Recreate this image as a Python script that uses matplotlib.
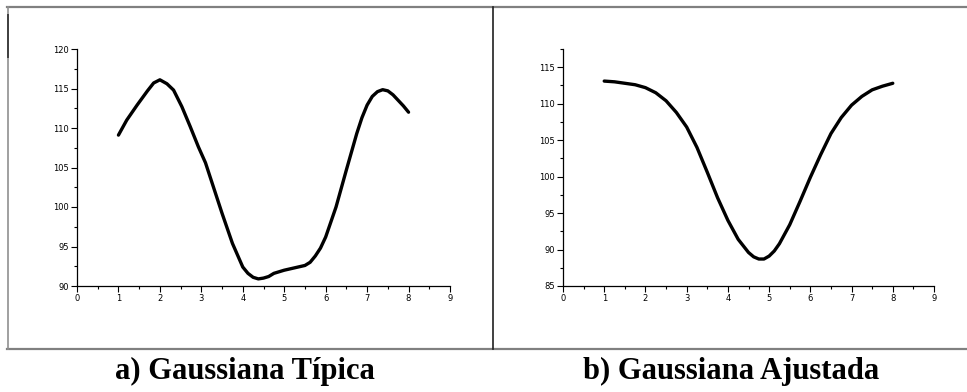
import matplotlib
matplotlib.use("Agg")
import matplotlib.pyplot as plt
from matplotlib.lines import Line2D
from matplotlib.ticker import MultipleLocator

# a) typical gaussian (read off the picture)
x_tipica = [1, 1.2, 1.45, 1.7, 1.85, 2, 2.17, 2.33, 2.53, 2.73, 2.93, 3.1,
            3.25, 3.5, 3.75, 4, 4.125, 4.25, 4.375, 4.5, 4.625, 4.75, 5,
            5.25, 5.5, 5.625, 5.75, 5.875, 6, 6.25, 6.5, 6.75, 6.875, 7,
            7.125, 7.25, 7.375, 7.5, 7.625, 7.75, 7.875, 8]
y_tipica = [109.1, 111.0, 112.9, 114.7, 115.7, 116.1, 115.6, 114.8, 112.7,
            110.2, 107.6, 105.6, 103.2, 99.2, 95.4, 92.4, 91.6, 91.1, 90.9,
            91.0, 91.2, 91.6, 92.0, 92.3, 92.6, 93.0, 93.8, 94.8, 96.2,
            100.0, 104.7, 109.3, 111.3, 112.9, 114.0, 114.6, 114.85, 114.7,
            114.2, 113.5, 112.8, 112.0]

# b) fitted gaussian
x_ajust = [1, 1.25, 1.5, 1.75, 2, 2.25, 2.5, 2.75, 3, 3.25, 3.5, 3.75, 4,
           4.25, 4.5, 4.625, 4.75, 4.875, 5, 5.125, 5.25, 5.5, 5.75, 6,
           6.25, 6.5, 6.75, 7, 7.25, 7.5, 7.75, 8]
y_ajust = [113.1, 113.0, 112.8, 112.6, 112.2, 111.5, 110.4, 108.8, 106.8,
           104.0, 100.6, 97.1, 94.0, 91.4, 89.6, 89.0, 88.7, 88.7, 89.1,
           89.8, 90.8, 93.4, 96.6, 99.9, 103.0, 105.9, 108.1, 109.8, 111.0,
           111.9, 112.4, 112.8]

captions = ["a) Gaussiana Típica", "b) Gaussiana Ajustada"]

W, H = 967, 392
fig = plt.figure(figsize=(W / 100, H / 100), dpi=100)


def style_axes(ax, ylim):
    ax.set_xlim(0, 9)
    ax.set_ylim(*ylim)
    for s in ["top", "right"]:
        ax.spines[s].set_visible(False)
    for s in ["left", "bottom"]:
        ax.spines[s].set_linewidth(0.9)
    ax.xaxis.set_major_locator(MultipleLocator(1))
    ax.xaxis.set_minor_locator(MultipleLocator(0.5))
    ax.yaxis.set_major_locator(MultipleLocator(5))
    ax.yaxis.set_minor_locator(MultipleLocator(2.5))
    ax.tick_params(which="major", direction="out", length=4, width=0.8,
                   labelsize=6, pad=2)
    ax.tick_params(which="minor", direction="out", length=2.5, width=0.8)


ax1 = fig.add_axes([77 / W, 1 - 286 / H, 373 / W, 237 / H])
ax1.plot(x_tipica, y_tipica, color="black", lw=2.4, solid_capstyle="round",
         solid_joinstyle="round")
style_axes(ax1, (90, 120))

ax2 = fig.add_axes([563 / W, 1 - 286 / H, 371 / W, 237 / H])
ax2.plot(x_ajust, y_ajust, color="black", lw=2.4, solid_capstyle="round",
         solid_joinstyle="round")
style_axes(ax2, (85, 117.5))

# frame around the two panels
def fline(x0, y0, x1, y1, color, lw):
    fig.add_artist(Line2D([x0 / W, x1 / W], [1 - y0 / H, 1 - y1 / H],
                          transform=fig.transFigure, color=color, lw=lw))

fline(7, 7, 967, 7, "#808080", 1.6)
fline(7, 349, 967, 349, "#808080", 1.6)
fline(8, 7, 8, 349, "#909090", 1.2)
fline(8, 15, 8, 57, "#404040", 1.4)
fline(493, 7, 493, 349, "#202020", 1.2)

fig.text(245 / W, 1 - 371 / H, captions[0], ha="center", va="center",
         fontsize=22, fontweight="bold", family="Liberation Serif")
fig.text(731 / W, 1 - 371 / H, captions[1], ha="center", va="center",
         fontsize=22, fontweight="bold", family="Liberation Serif")

fig.savefig("out.png", dpi=100)
